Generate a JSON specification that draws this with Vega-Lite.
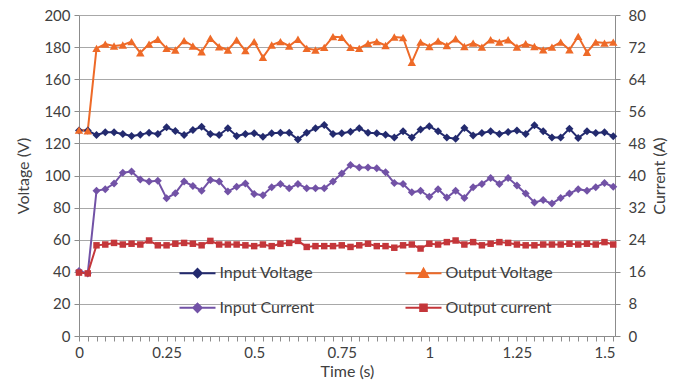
{
  "$schema": "https://vega.github.io/schema/vega-lite/v6.json",
  "autosize": {"type": "none"},
  "width": 536,
  "height": 321,
  "padding": {"left": 79, "top": 15, "right": 68, "bottom": 53},
  "background": "white",
  "data": {
    "values": [
      {"t": 0, "Input Voltage": 128.0, "Output Voltage": 128.3, "Input Current": 16.2, "Output current": 15.8},
      {"t": 0.025, "Input Voltage": 128.0, "Output Voltage": 127.9, "Input Current": 15.6, "Output current": 15.6},
      {"t": 0.05, "Input Voltage": 125.2, "Output Voltage": 179.2, "Input Current": 36.2, "Output current": 22.6},
      {"t": 0.075, "Input Voltage": 126.9, "Output Voltage": 181.9, "Input Current": 36.6, "Output current": 22.8},
      {"t": 0.1, "Input Voltage": 126.9, "Output Voltage": 180.7, "Input Current": 38.0, "Output current": 23.2},
      {"t": 0.125, "Input Voltage": 125.9, "Output Voltage": 181.3, "Input Current": 40.7, "Output current": 22.8},
      {"t": 0.15, "Input Voltage": 124.6, "Output Voltage": 183.4, "Input Current": 41.0, "Output current": 23.0},
      {"t": 0.175, "Input Voltage": 125.4, "Output Voltage": 176.5, "Input Current": 39.0, "Output current": 22.8},
      {"t": 0.2, "Input Voltage": 126.7, "Output Voltage": 181.9, "Input Current": 38.5, "Output current": 23.8},
      {"t": 0.225, "Input Voltage": 125.9, "Output Voltage": 184.9, "Input Current": 38.7, "Output current": 22.6},
      {"t": 0.25, "Input Voltage": 130.0, "Output Voltage": 179.2, "Input Current": 34.3, "Output current": 22.6},
      {"t": 0.275, "Input Voltage": 127.7, "Output Voltage": 178.2, "Input Current": 35.6, "Output current": 23.0},
      {"t": 0.3, "Input Voltage": 125.2, "Output Voltage": 184.0, "Input Current": 38.5, "Output current": 23.2},
      {"t": 0.325, "Input Voltage": 128.3, "Output Voltage": 180.7, "Input Current": 37.4, "Output current": 23.0},
      {"t": 0.35, "Input Voltage": 130.4, "Output Voltage": 177.1, "Input Current": 36.2, "Output current": 22.6},
      {"t": 0.375, "Input Voltage": 125.9, "Output Voltage": 185.5, "Input Current": 38.9, "Output current": 23.7},
      {"t": 0.4, "Input Voltage": 125.2, "Output Voltage": 180.2, "Input Current": 38.5, "Output current": 22.8},
      {"t": 0.425, "Input Voltage": 129.4, "Output Voltage": 178.2, "Input Current": 36.0, "Output current": 22.8},
      {"t": 0.45, "Input Voltage": 124.6, "Output Voltage": 184.4, "Input Current": 37.2, "Output current": 22.8},
      {"t": 0.475, "Input Voltage": 125.9, "Output Voltage": 177.8, "Input Current": 38.0, "Output current": 22.6},
      {"t": 0.5, "Input Voltage": 126.3, "Output Voltage": 183.4, "Input Current": 35.4, "Output current": 22.4},
      {"t": 0.525, "Input Voltage": 124.2, "Output Voltage": 173.6, "Input Current": 35.1, "Output current": 22.8},
      {"t": 0.55, "Input Voltage": 126.3, "Output Voltage": 181.3, "Input Current": 37.1, "Output current": 22.4},
      {"t": 0.575, "Input Voltage": 126.7, "Output Voltage": 183.4, "Input Current": 37.9, "Output current": 23.0},
      {"t": 0.6, "Input Voltage": 126.7, "Output Voltage": 180.7, "Input Current": 36.8, "Output current": 23.2},
      {"t": 0.625, "Input Voltage": 122.5, "Output Voltage": 184.9, "Input Current": 37.9, "Output current": 23.7},
      {"t": 0.65, "Input Voltage": 126.7, "Output Voltage": 179.2, "Input Current": 36.8, "Output current": 22.2},
      {"t": 0.675, "Input Voltage": 129.4, "Output Voltage": 178.2, "Input Current": 36.8, "Output current": 22.4},
      {"t": 0.7, "Input Voltage": 131.5, "Output Voltage": 179.8, "Input Current": 36.8, "Output current": 22.4},
      {"t": 0.725, "Input Voltage": 125.9, "Output Voltage": 186.5, "Input Current": 38.5, "Output current": 22.4},
      {"t": 0.75, "Input Voltage": 126.3, "Output Voltage": 186.1, "Input Current": 40.5, "Output current": 22.6},
      {"t": 0.775, "Input Voltage": 127.3, "Output Voltage": 179.8, "Input Current": 42.6, "Output current": 22.2},
      {"t": 0.8, "Input Voltage": 129.4, "Output Voltage": 179.2, "Input Current": 42.0, "Output current": 22.6},
      {"t": 0.825, "Input Voltage": 126.7, "Output Voltage": 182.3, "Input Current": 42.0, "Output current": 23.0},
      {"t": 0.85, "Input Voltage": 126.3, "Output Voltage": 183.4, "Input Current": 41.8, "Output current": 22.4},
      {"t": 0.875, "Input Voltage": 125.4, "Output Voltage": 181.0, "Input Current": 40.8, "Output current": 22.4},
      {"t": 0.9, "Input Voltage": 123.7, "Output Voltage": 186.3, "Input Current": 38.1, "Output current": 22.0},
      {"t": 0.925, "Input Voltage": 127.5, "Output Voltage": 185.9, "Input Current": 37.9, "Output current": 22.6},
      {"t": 0.95, "Input Voltage": 123.7, "Output Voltage": 170.5, "Input Current": 35.8, "Output current": 22.8},
      {"t": 0.975, "Input Voltage": 128.6, "Output Voltage": 183.1, "Input Current": 36.2, "Output current": 21.8},
      {"t": 1.0, "Input Voltage": 130.7, "Output Voltage": 180.4, "Input Current": 34.7, "Output current": 23.0},
      {"t": 1.025, "Input Voltage": 127.5, "Output Voltage": 183.8, "Input Current": 36.6, "Output current": 22.8},
      {"t": 1.05, "Input Voltage": 123.7, "Output Voltage": 181.0, "Input Current": 34.5, "Output current": 23.4},
      {"t": 1.075, "Input Voltage": 122.9, "Output Voltage": 185.2, "Input Current": 36.2, "Output current": 23.8},
      {"t": 1.1, "Input Voltage": 129.6, "Output Voltage": 180.4, "Input Current": 34.4, "Output current": 22.8},
      {"t": 1.125, "Input Voltage": 125.0, "Output Voltage": 182.5, "Input Current": 37.1, "Output current": 23.4},
      {"t": 1.15, "Input Voltage": 126.5, "Output Voltage": 180.0, "Input Current": 37.9, "Output current": 22.6},
      {"t": 1.175, "Input Voltage": 127.5, "Output Voltage": 184.6, "Input Current": 39.4, "Output current": 23.0},
      {"t": 1.2, "Input Voltage": 125.9, "Output Voltage": 183.1, "Input Current": 37.9, "Output current": 23.4},
      {"t": 1.225, "Input Voltage": 127.1, "Output Voltage": 184.6, "Input Current": 39.4, "Output current": 23.2},
      {"t": 1.25, "Input Voltage": 128.0, "Output Voltage": 180.0, "Input Current": 37.5, "Output current": 22.8},
      {"t": 1.275, "Input Voltage": 125.9, "Output Voltage": 182.1, "Input Current": 35.5, "Output current": 22.6},
      {"t": 1.3, "Input Voltage": 131.3, "Output Voltage": 180.4, "Input Current": 33.3, "Output current": 22.6},
      {"t": 1.325, "Input Voltage": 127.5, "Output Voltage": 178.3, "Input Current": 33.9, "Output current": 22.8},
      {"t": 1.35, "Input Voltage": 123.7, "Output Voltage": 180.0, "Input Current": 33.0, "Output current": 22.8},
      {"t": 1.375, "Input Voltage": 123.7, "Output Voltage": 183.1, "Input Current": 34.4, "Output current": 22.8},
      {"t": 1.4, "Input Voltage": 129.2, "Output Voltage": 178.3, "Input Current": 35.5, "Output current": 23.0},
      {"t": 1.425, "Input Voltage": 123.4, "Output Voltage": 186.7, "Input Current": 36.6, "Output current": 22.8},
      {"t": 1.45, "Input Voltage": 127.5, "Output Voltage": 176.8, "Input Current": 36.2, "Output current": 23.0},
      {"t": 1.475, "Input Voltage": 126.5, "Output Voltage": 183.1, "Input Current": 37.1, "Output current": 22.8},
      {"t": 1.5, "Input Voltage": 126.9, "Output Voltage": 182.5, "Input Current": 38.1, "Output current": 23.4},
      {"t": 1.525, "Input Voltage": 124.4, "Output Voltage": 183.1, "Input Current": 37.2, "Output current": 22.8}
    ]
  },
  "encoding": {
    "x": {
      "field": "t", "type": "quantitative",
      "scale": {"domain": [0, 1.53], "nice": false, "zero": false},
      "axis": {
        "title": "Time (s)",
        "values": [0, 0.025, 0.05, 0.075, 0.1, 0.125, 0.15, 0.175, 0.2, 0.225, 0.25, 0.275, 0.3, 0.325, 0.35, 0.375, 0.4, 0.425, 0.45, 0.475, 0.5, 0.525, 0.55, 0.575, 0.6, 0.625, 0.65, 0.675, 0.7, 0.725, 0.75, 0.775, 0.8, 0.825, 0.85, 0.875, 0.9, 0.925, 0.95, 0.975, 1, 1.025, 1.05, 1.075, 1.1, 1.125, 1.15, 1.175, 1.2, 1.225, 1.25, 1.275, 1.3, 1.325, 1.35, 1.375, 1.4, 1.425, 1.45, 1.475, 1.5, 1.525],
        "labelExpr": "abs(datum.value * 4 - round(datum.value * 4)) < 0.001 ? format(datum.value, '~g') : ''",
        "labelOverlap": false,
        "labelFlush": false,
        "labelBound": false,
        "grid": false,
        "tickSize": 5,
        "labelPadding": 4,
        "titlePadding": 3
      }
    },
    "color": {
      "field": "series", "type": "nominal",
      "scale": {
        "domain": ["Input Voltage", "Output Voltage", "Input Current", "Output current"],
        "range": ["#232a6e", "#ee6a28", "#7252a6", "#c4363a"]
      },
      "legend": {
        "encode": {
          "symbols": {
            "update": {
              "shape": {"signal": "datum.value === 'Output Voltage' ? 'M-1.2,0H1.2M0,-0.3L0.3,0.24H-0.3Z' : datum.value === 'Output current' ? 'M-1.2,0H1.2M-0.22,-0.22H0.22V0.22H-0.22Z' : 'M-1.2,0H1.2M0,-0.28L0.28,0L0,0.28L-0.28,0Z'"},
              "fill": {"scale": "color", "field": "value"},
              "stroke": {"scale": "color", "field": "value"},
              "strokeWidth": {"value": 2},
              "opacity": {"value": 1}
            }
          }
        }
      }
    }
  },
  "layer": [
    {
      "transform": [{"fold": ["Input Voltage", "Output Voltage"], "as": ["series", "value"]}],
      "encoding": {
        "y": {
          "field": "value", "type": "quantitative",
          "scale": {"domain": [0, 200], "nice": false},
          "axis": {
            "title": "Voltage (V)",
            "orient": "left",
            "values": [0, 20, 40, 60, 80, 100, 120, 140, 160, 180, 200],
            "grid": true,
            "tickSize": 5,
            "labelPadding": 4,
            "titlePadding": 12
          }
        }
      },
      "layer": [
        {"mark": {"type": "line", "strokeWidth": 2}},
        {
          "transform": [{"filter": "datum.series === 'Input Voltage'"}],
          "mark": {"type": "point", "shape": "diamond", "filled": true, "opacity": 1, "size": 64}
        },
        {
          "transform": [{"filter": "datum.series === 'Output Voltage'"}],
          "mark": {"type": "point", "shape": "triangle-up", "filled": true, "opacity": 1, "size": 72}
        }
      ]
    },
    {
      "transform": [{"fold": ["Input Current", "Output current"], "as": ["series", "value"]}],
      "encoding": {
        "y": {
          "field": "value", "type": "quantitative",
          "scale": {"domain": [0, 80], "nice": false},
          "axis": {
            "title": "Current (A)",
            "orient": "right",
            "values": [0, 8, 16, 24, 32, 40, 48, 56, 64, 72, 80],
            "grid": false,
            "tickSize": 5,
            "labelPadding": 8,
            "titleAngle": 270,
            "titlePadding": 22
          }
        }
      },
      "layer": [
        {"mark": {"type": "line", "strokeWidth": 2}},
        {
          "transform": [{"filter": "datum.series === 'Input Current'"}],
          "mark": {"type": "point", "shape": "diamond", "filled": true, "opacity": 1, "size": 64}
        },
        {
          "transform": [{"filter": "datum.series === 'Output current'"}],
          "mark": {"type": "point", "shape": "square", "filled": true, "opacity": 1, "size": 42}
        }
      ]
    }
  ],
  "resolve": {"scale": {"y": "independent"}},
  "config": {
    "view": {"stroke": null},
    "font": "Lato",
    "axis": {
      "labelFont": "Lato",
      "labelFontSize": 15,
      "labelColor": "#404040",
      "titleFont": "Lato",
      "titleFontSize": 16,
      "titleFontWeight": "normal",
      "titleColor": "#404040",
      "domainColor": "#8c8c8c",
      "tickColor": "#8c8c8c",
      "gridColor": "#a8a8a8",
      "gridWidth": 1
    },
    "legend": {
      "orient": "none",
      "legendX": 102.5,
      "legendY": 241.8,
      "direction": "horizontal",
      "columns": 2,
      "columnPadding": 87,
      "rowPadding": 10,
      "padding": 0,
      "title": null,
      "symbolSize": 900,
      "labelOffset": 6,
      "labelFont": "Lato",
      "labelFontSize": 16,
      "labelColor": "#404040"
    }
  }
}
